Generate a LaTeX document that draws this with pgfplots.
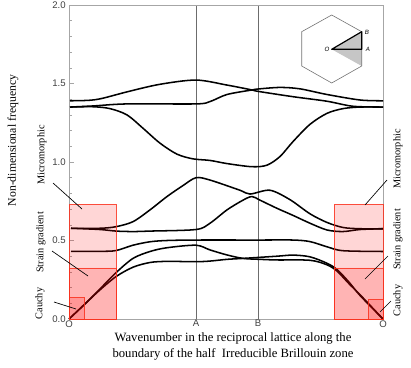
\documentclass[border=0pt]{standalone}
\usepackage{fontspec}
\setmainfont{Liberation Serif}
\setsansfont{Liberation Sans}
\usepackage{pgfplots}
\pgfplotsset{compat=1.18}
\definecolor{boxred}{RGB}{250,50,30}
\tikzset{
  band/.style={black, line width=1.15pt, smooth, no markers},
  box/.style={draw=boxred, fill=red, fill opacity=0.16, draw opacity=0.85, line width=0.65pt, sharp plot, no markers},
}
\begin{document}
\begin{tikzpicture}[x=0.75pt,y=-0.75pt]
\path[use as bounding box] (0,0) rectangle (411,368);
\begin{axis}[
    at={(51.75pt,-239.25pt)}, anchor=south west,
    scale only axis, width=235.5pt, height=235.5pt,
    xmin=0, xmax=314, ymin=0, ymax=2,
    xtick={0,127,189,314}, xticklabels={O,A,B,O},
    ytick={0,0.5,1,1.5,2},
    minor y tick num=4,
    tick pos=left,
    tick align=inside,
    major tick length=4pt, minor tick length=2.2pt,
    tick style={gray!70, line width=0.4pt},
    x tick style={draw=none},
    axis line style={gray!70, line width=0.5pt},
    xmajorgrids, grid style={gray!85!black, line width=0.6pt},
    xticklabel style={font=\fontsize{7.2}{8}\selectfont\sffamily, text=black!75, yshift=2.5pt},
    yticklabel style={font=\fontsize{7.2}{8}\selectfont\sffamily, text=black!75, xshift=1pt},
    /pgf/number format/assume math mode=true,
    /pgf/number format/fixed, /pgf/number format/fixed zerofill, /pgf/number format/precision=1,
    clip=false,
]
% bands, top to bottom at O
\addplot[band] coordinates {(1,1.39)(20,1.393)(33,1.405)(60,1.45)(91,1.495)(127,1.522)(158,1.49)(183,1.459)(189,1.45)(224,1.416)(258,1.387)(284,1.355)(314,1.35)};
\addplot[band] coordinates {(1,1.35)(24,1.357)(58,1.37)(127,1.37)(141,1.385)(158,1.43)(183,1.459)(189,1.465)(211,1.475)(231,1.466)(258,1.43)(291,1.395)(314,1.39)};
\addplot[band] coordinates {(1,1.35)(24,1.352)(41,1.34)(58,1.30)(74,1.215)(91,1.12)(108,1.05)(124,1.02)(141,1.01)(158,0.99)(183,0.97)(198,0.98)(211,1.035)(224,1.13)(241,1.24)(258,1.31)(274,1.34)(291,1.35)(314,1.35)};
\addplot[band] coordinates {(2,0.578)(31,0.578)(47,0.588)(64,0.62)(81,0.695)(98,0.78)(114,0.85)(127,0.90)(141,0.885)(171,0.82)(181,0.796)(201,0.82)(221,0.76)(241,0.67)(258,0.615)(274,0.583)(291,0.575)(314,0.575)};
\addplot[band] coordinates {(2,0.578)(31,0.57)(47,0.56)(64,0.557)(81,0.56)(127,0.57)(141,0.61)(158,0.695)(174,0.757)(183,0.78)(191,0.757)(208,0.705)(224,0.66)(241,0.61)(258,0.567)(274,0.557)(291,0.57)(314,0.575)};
\addplot[band] coordinates {(2,0.431)(31,0.431)(47,0.436)(64,0.47)(81,0.492)(98,0.5)(127,0.503)(189,0.503)(224,0.503)(241,0.493)(258,0.46)(274,0.435)(314,0.43)};
\addplot[band] coordinates {(0,0)(15,0.09)(30,0.185)(47,0.295)(64,0.386)(81,0.43)(98,0.454)(127,0.47)(141,0.44)(158,0.408)(174,0.386)(191,0.38)(208,0.376)(241,0.374)(258,0.345)(268,0.305)(280,0.225)(291,0.155)(314,0)};
\addplot[band] coordinates {(0,0)(15,0.09)(30,0.18)(47,0.27)(64,0.33)(81,0.36)(98,0.367)(127,0.365)(141,0.369)(158,0.38)(174,0.386)(208,0.40)(224,0.407)(241,0.396)(258,0.355)(268,0.315)(280,0.235)(291,0.15)(314,0)};
% shaded wavenumber ranges
\addplot[box] coordinates {(0,0)(47,0)(47,0.73)(0,0.73)} \closedcycle;
\addplot[box] coordinates {(0,0)(47,0)(47,0.325)(0,0.325)} \closedcycle;
\addplot[box] coordinates {(0,0)(15.5,0)(15.5,0.14)(0,0.14)} \closedcycle;
\addplot[box] coordinates {(265,0)(314,0)(314,0.73)(265,0.73)} \closedcycle;
\addplot[box] coordinates {(265,0)(314,0)(314,0.325)(265,0.325)} \closedcycle;
\addplot[box] coordinates {(299,0)(314,0)(314,0.127)(299,0.127)} \closedcycle;
\end{axis}
% inset
\fill[gray!45] (331.7,49.3) -- (361.7,31.7) -- (361.7,66) -- cycle;
\draw[gray!90!black, line width=0.45pt] (331.7,15) -- (361.7,31.7) -- (361.7,66) -- (331.7,83) -- (301.7,66) -- (301.7,31.7) -- cycle;
\draw[black, line width=0.9pt, line join=round] (331.7,49.3) -- (361.7,49.3) -- (361.7,31.7) -- cycle;
\begin{scope}[every node/.style={font=\fontsize{4.6}{5}\selectfont\sffamily\itshape, inner sep=0pt}]
\node at (327,49.3) {O};
\node at (368,49.3) {A};
\node at (367,32) {B};
\end{scope}
% labels
\node[rotate=90, font=\fontsize{8.8}{11}\selectfont] at (13,140.5) {Non-dimensional frequency};
\node[font=\fontsize{9.5}{12}\selectfont, align=center, inner sep=0pt] at (233,346) {Wavenumber in the reciprocal lattice along the\\boundary of the half\ \ Irreducible Brillouin zone};
\begin{scope}[every node/.style={rotate=90, font=\fontsize{7.7}{9}\selectfont, inner sep=0pt}]
\node at (42,155) {Micromorphic};
\node at (41,242.5) {Strain gradient};
\node at (40,303.5) {Cauchy};
\node at (398,159) {Micromorphic};
\node at (398,239.5) {Strain gradient};
\node at (398,300.5) {Cauchy};
\end{scope}
\begin{scope}[line width=0.5pt, black]
\draw (53,183) -- (82,209);
\draw (52,251) -- (88,276);
\draw (54,302) -- (76,309);
\draw (387,180) -- (365,205);
\draw (388,256) -- (365,279);
\draw (391,301) -- (380,312);
\end{scope}
\end{tikzpicture}
\end{document}
